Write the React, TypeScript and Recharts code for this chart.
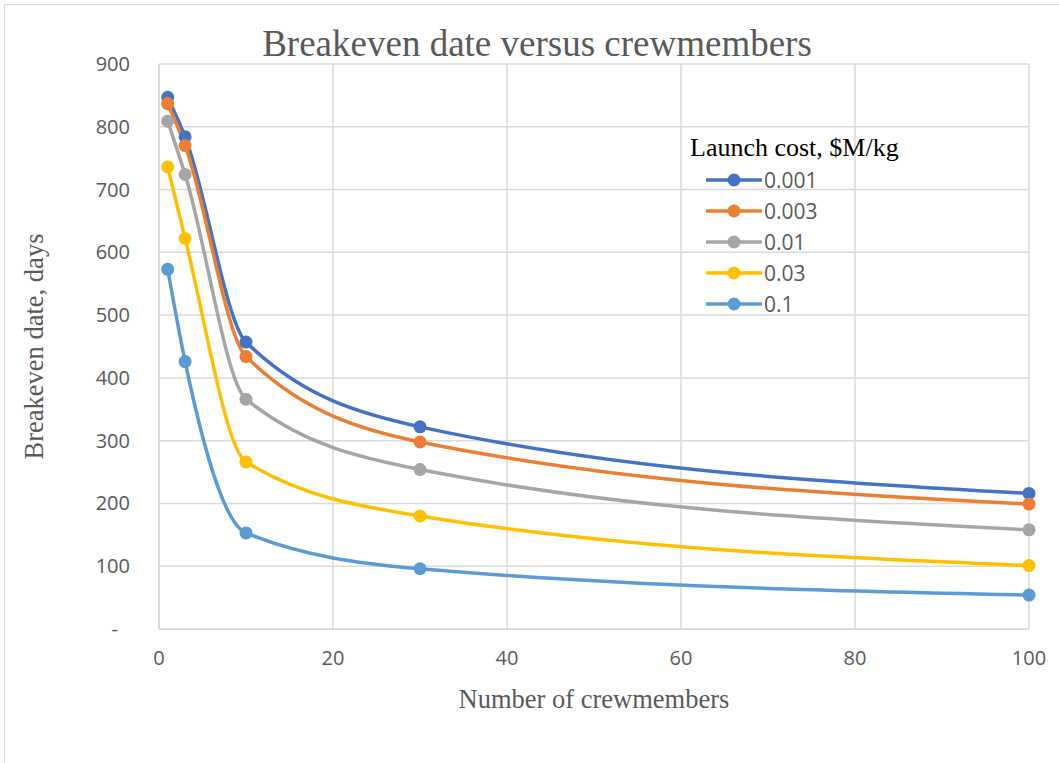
import React from "react";
import { LineChart, Line, XAxis, YAxis, CartesianGrid } from "recharts";

const crew = [1, 3, 10, 30, 100];
const costs = ["0.001", "0.003", "0.01", "0.03", "0.1"];
const colors = ["#4472C4", "#ED7D31", "#A5A5A5", "#FFC000", "#5B9BD5"];
const days001 = [847, 784, 457, 322, 216];
const days003 = [837, 770, 434, 298, 199];
const days01 = [809, 724, 366, 254, 158];
const days03 = [736, 622, 266, 180, 101];
const days1 = [573, 426, 153, 96, 54];
const xTicks = [0, 20, 40, 60, 80, 100];
const yTicks = [0, 100, 200, 300, 400, 500, 600, 700, 800, 900];

const seriesValues = [days001, days003, days01, days03, days1];
const data = crew.map((n, i) => {
  const row: Record<string, number> = { crew: n };
  costs.forEach((c, k) => {
    row[c] = seriesValues[k][i];
  });
  return row;
});

const sans = "'Open Sans', 'Noto Sans', sans-serif";
const serif = "'Liberation Serif', 'DejaVu Serif', serif";

function YTick(props: any) {
  const { x, y, payload } = props;
  const zero = payload.value === 0;
  return (
    <text
      x={zero ? x - 12 : x}
      y={y}
      dy="0.35em"
      textAnchor="end"
      fill="#595959"
      fontSize={20}
      fontFamily={sans}
    >
      {zero ? "-" : payload.value}
    </text>
  );
}

function LegendBox() {
  return (
    <div style={{ position: "absolute", left: 690, top: 134, width: 260, fontFamily: sans }}>
      <div style={{ fontFamily: serif, fontSize: 26, color: "#000", lineHeight: "28px", marginBottom: 2 }}>
        Launch cost, $M/kg
      </div>
      {costs.map((c, i) => (
        <div key={c} style={{ display: "flex", alignItems: "center", height: 31, marginLeft: 16 }}>
          <svg width={56} height={16}>
            <line x1={1} y1={8} x2={55} y2={8} stroke={colors[i]} strokeWidth={3.5} strokeLinecap="round" />
            <circle cx={28} cy={8} r={6.5} fill={colors[i]} />
          </svg>
          <span style={{ fontSize: 21, color: "#595959", marginLeft: 2 }}>{c}</span>
        </div>
      ))}
    </div>
  );
}

export default function App() {
  return (
    <div style={{ position: "relative", width: 1059, height: 763, background: "#fff" }}>
      <style>{"body{margin:0}"}</style>
      <div
        style={{
          position: "absolute",
          left: 4,
          top: 4,
          right: -4,
          bottom: -4,
          borderLeft: "1.5px solid #d9d9d9",
          borderTop: "1.5px solid #d9d9d9",
        }}
      />
      <div
        style={{
          position: "absolute",
          left: 0,
          width: 1074,
          top: 22,
          textAlign: "center",
          fontFamily: serif,
          fontSize: 37,
          color: "#595959",
        }}
      >
        Breakeven date versus crewmembers
      </div>
      <LineChart
        width={1059}
        height={763}
        data={data}
        margin={{ top: 64, right: 30, left: 29, bottom: 30 }}
        style={{ position: "absolute", left: 0, top: 0 }}
      >
        <CartesianGrid stroke="#d9d9d9" strokeWidth={1.5} />
        <XAxis
          dataKey="crew"
          type="number"
          domain={[0, 100]}
          ticks={xTicks}
          height={104}
          tickLine={false}
          tickMargin={16}
          stroke="#d9d9d9"
          strokeWidth={1.5}
          tick={{ fill: "#595959", fontSize: 20, fontFamily: sans }}
          label={{
            value: "Number of crewmembers",
            position: "insideBottom",
            offset: 25,
            fill: "#595959",
            fontSize: 26.5,
            fontFamily: serif,
          }}
        />
        <YAxis
          type="number"
          domain={[0, 900]}
          ticks={yTicks}
          width={130}
          tickLine={false}
          tickMargin={23}
          stroke="#d9d9d9"
          strokeWidth={1.5}
          tick={<YTick />}
          label={{
            value: "Breakeven date, days",
            angle: -90,
            position: "insideLeft",
            offset: 5,
            fill: "#595959",
            fontSize: 26.5,
            fontFamily: serif,
            style: { textAnchor: "middle" },
          }}
        />
        {costs.map((c, i) => (
          <Line
            key={c}
            dataKey={c}
            type="monotone"
            stroke={colors[i]}
            strokeWidth={3.5}
            dot={{ r: 6.5, fill: colors[i], stroke: "none" }}
            activeDot={false}
            isAnimationActive={false}
          />
        ))}
      </LineChart>
      <LegendBox />
    </div>
  );
}
